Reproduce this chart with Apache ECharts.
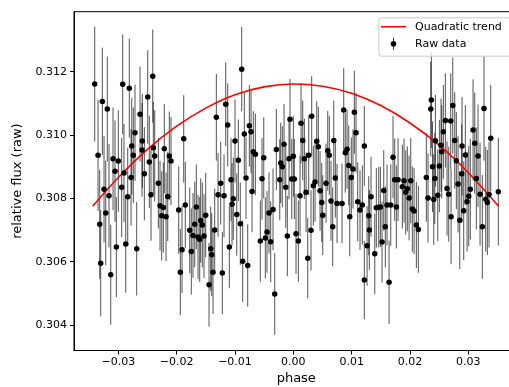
<!DOCTYPE html>
<html>
<head>
<meta charset="utf-8">
<script src="https://cdn.jsdelivr.net/npm/echarts@6/dist/echarts.min.js"></script>
<style>
html,body{margin:0;padding:0;background:#fff;}
#c{width:509px;height:387px;}
</style>
</head>
<body>
<div id="c"></div>
<script>
// ---- data ----
const phase = [
-0.03405,-0.03348,-0.03319,-0.03302,-0.03274,-0.03245,-0.03216,-0.03189,-0.0316,-0.0313,
-0.03091,-0.03057,-0.03034,-0.03,-0.02942,-0.02925,-0.02903,-0.02873,-0.02839,-0.02812,
-0.02782,-0.0277,-0.02743,-0.02714,-0.02685,-0.02628,-0.02589,-0.02594,-0.02554,-0.02496,
-0.02469,-0.0244,-0.0241,-0.024,-0.02376,-0.02314,-0.02285,-0.02256,-0.02229,-0.02212,
-0.02182,-0.02153,-0.02126,-0.02097,-0.01965,-0.01937,-0.01908,-0.01879,-0.01852,-0.01776,
-0.01749,-0.0172,-0.0169,-0.01663,-0.01634,-0.01605,-0.01588,-0.0156,-0.01531,-0.01502,
-0.01445,-0.01416,-0.01399,-0.01377,-0.01348,-0.0132,-0.01291,-0.01245,-0.01217,-0.01188,
-0.01159,-0.01125,-0.01097,-0.01068,-0.01051,-0.01029,-0.01,-0.0097,-0.00943,-0.00909,
-0.00885,-0.00868,-0.0084,-0.00811,-0.00782,-0.00754,-0.00725,-0.00708,-0.00686,-0.00651,
-0.00566,-0.00537,-0.00507,-0.0048,-0.00451,-0.00417,-0.00388,-0.00348,-0.00319,-0.00291,
-0.00233,-0.00216,-0.00189,-0.00159,-0.0013,-0.00103,-0.00074,-0.00057,-0.00027,0.0,
0.00017,0.00046,0.00086,0.00115,0.00132,0.00161,0.00189,0.00218,0.00247,0.00264,
0.00303,0.00315,0.00343,0.00372,0.00401,0.00429,0.00458,0.00487,0.00504,0.00561,
0.0059,0.00617,0.00646,0.00675,0.00693,0.0072,0.00749,0.00835,0.00864,0.00891,
0.00921,0.0095,0.00967,0.00994,0.01023,0.01046,0.01075,0.01104,0.01143,0.01183,
0.01217,0.01217,0.01264,0.01293,0.01303,0.01332,0.01396,0.01423,0.01464,0.01492,
0.01521,0.0155,0.01577,0.01606,0.01641,0.0167,0.01709,0.01738,0.01766,0.01795,
0.01869,0.01898,0.01927,0.01954,0.01984,0.02013,0.0204,0.0207,0.02109,0.02143,
0.0228,0.02309,0.02356,0.02366,0.02386,0.02407,0.02425,0.02435,0.02476,0.02503,
0.02532,0.02544,0.02572,0.02606,0.02635,0.02664,0.02698,0.02704,0.02733,0.02767,
0.02794,0.02824,0.02853,0.02887,0.02892,0.02921,0.02949,0.02978,0.03007,0.03034,
0.03081,0.0311,0.03137,0.03166,0.03201,0.0324,0.03269,0.03298,0.03326,0.03355,
0.03384,0.03514
];
const flux = [
0.31161,0.30936,0.30718,0.30595,0.31106,0.30829,0.30754,0.31082,0.30808,0.30559,
0.30925,0.30886,0.30646,0.30918,0.30835,0.3116,0.3088,0.30656,0.30805,0.31148,
0.30866,0.30965,0.30936,0.31007,0.30641,0.31066,0.30981,0.30953,0.30878,0.3112,
0.30915,0.30811,0.31186,0.3096,0.30934,0.30848,0.30777,0.30745,0.30771,0.30957,
0.30742,0.30806,0.30934,0.30918,0.30763,0.30567,0.30638,0.30988,0.30779,0.30699,
0.30632,0.30683,0.30718,0.30773,0.30678,0.3067,0.3073,0.30716,0.30681,0.30747,
0.30527,0.30641,0.30622,0.30567,0.307,0.31056,0.30811,0.30848,0.30564,0.30808,
0.31097,0.31032,0.30646,0.30859,0.30781,0.30799,0.30981,0.30749,0.3092,0.3072,
0.31208,0.30601,0.31003,0.30864,0.30588,0.31029,0.3101,0.30822,0.30947,0.30939,
0.30665,0.30862,0.30928,0.30675,0.30694,0.30754,0.30663,0.30765,0.30498,0.30954,
0.30859,0.30912,0.309,0.30971,0.30835,0.30681,0.30925,0.3105,0.30861,0.30933,
0.30861,0.30688,0.30665,0.30808,0.31037,0.30983,0.30925,0.30819,0.30611,0.30936,
0.30699,0.31059,0.3084,0.30852,0.3098,0.30963,0.30824,0.30787,0.30747,0.30848,
0.3095,0.30936,0.30792,0.3071,0.30983,0.30864,0.30784,0.30784,0.31079,0.30944,
0.30955,0.30904,0.30742,0.30866,0.30893,0.31072,0.31007,0.30789,0.30763,0.30779,
0.30965,0.30542,0.3065,0.30745,0.307,0.30805,0.30625,0.3077,0.30772,0.30773,
0.30662,0.30825,0.3071,0.30779,0.30535,0.30779,0.3093,0.30859,0.30773,0.30859,
0.30837,0.30856,0.30819,0.3083,0.30801,0.30856,0.30766,0.3076,0.30716,0.30702,
0.30866,0.30801,0.31082,0.31111,0.309,0.30796,0.30863,0.30982,0.3081,0.30902,
0.30968,0.30947,0.3101,0.31046,0.30831,0.30813,0.31044,0.30742,0.31093,0.30983,
0.30919,0.30845,0.30731,0.30878,0.30965,0.30761,0.30937,0.30789,0.30807,0.30829,
0.31016,0.30974,0.30863,0.30934,0.30813,0.3071,0.31084,0.30797,0.30787,0.30812,
0.3099,0.30821
];
const fluxErr = [
0.00182,0.00175,0.00172,0.00168,0.00170,0.00168,0.00165,0.00166,0.00163,0.00158,
0.00162,0.00160,0.00158,0.00160,0.00157,0.00158,0.00155,0.00154,0.00155,0.00156,
0.00152,0.00153,0.00151,0.00152,0.00148,0.00150,0.00149,0.00148,0.00147,0.00148,
0.00146,0.00145,0.00147,0.00145,0.00144,0.00143,0.00142,0.00141,0.00142,0.00141,
0.00140,0.00141,0.00140,0.00139,0.00138,0.00136,0.00137,0.00138,0.00136,0.00135,
0.00136,0.00134,0.00135,0.00134,0.00133,0.00134,0.00133,0.00134,0.00132,0.00133,
0.00132,0.00133,0.00131,0.00132,0.00131,0.00137,0.00132,0.00131,0.00130,0.00131,
0.00132,0.00131,0.00130,0.00131,0.00130,0.00130,0.00131,0.00130,0.00129,0.00130,
0.00133,0.00129,0.00130,0.00129,0.00130,0.00129,0.00130,0.00129,0.00128,0.00129,
0.00128,0.00129,0.00128,0.00128,0.00129,0.00128,0.00128,0.00129,0.00129,0.00128,
0.00128,0.00127,0.00128,0.00127,0.00128,0.00127,0.00128,0.00127,0.00127,0.00128,
0.00127,0.00127,0.00128,0.00127,0.00127,0.00126,0.00127,0.00126,0.00127,0.00126,
0.00127,0.00127,0.00126,0.00126,0.00127,0.00126,0.00126,0.00125,0.00126,0.00125,
0.00126,0.00125,0.00126,0.00125,0.00126,0.00125,0.00125,0.00126,0.00132,0.00126,
0.00125,0.00126,0.00125,0.00126,0.00125,0.00131,0.00126,0.00125,0.00126,0.00125,
0.00126,0.00124,0.00126,0.00125,0.00126,0.00126,0.00127,0.00126,0.00127,0.00127,
0.00128,0.00127,0.00128,0.00128,0.00132,0.00129,0.00130,0.00130,0.00131,0.00131,
0.00132,0.00133,0.00133,0.00134,0.00134,0.00135,0.00135,0.00136,0.00136,0.00137,
0.00140,0.00141,0.00150,0.00152,0.00143,0.00143,0.00144,0.00145,0.00145,0.00146,
0.00147,0.00147,0.00148,0.00149,0.00149,0.00150,0.00151,0.00150,0.00152,0.00152,
0.00153,0.00153,0.00154,0.00155,0.00155,0.00156,0.00157,0.00157,0.00158,0.00159,
0.00160,0.00160,0.00161,0.00162,0.00163,0.00164,0.00165,0.00165,0.00166,0.00167,
0.00168,0.00170
];
const trendPhase = [-0.0344,-0.03,-0.025,-0.02,-0.015,-0.01,-0.005,0.0,0.005,0.01,0.015,0.02,0.025,0.03,0.0352];
const trendFlux  = [0.30775,0.30866,0.30955,0.31028,0.31085,0.31127,0.31152,0.31161,0.31154,0.31132,0.31093,0.31038,0.30968,0.30881,0.30775];
const xTicks = [-0.03,-0.02,-0.01,0.0,0.01,0.02,0.03];
const yTicks = [0.304,0.306,0.308,0.310,0.312];

// ---- chart ----
const FONT = 'DejaVu Sans';
const pts = phase.map((p, i) => [p, flux[i], fluxErr[i]]);
const trend = trendPhase.map((p, i) => [p, trendFlux[i]]);
const fmtX = v => (v < 0 ? '\u2212' : '') + Math.abs(v).toFixed(2);
const fmtY = v => v.toFixed(3);

const lineIcon = 'path://M0,0L0.01,0L0,0.01Z M25,12L24.99,12L25,11.99Z M0,5.2L25,5.2L25,6.8L0,6.8Z';
const dotIcon = 'path://M0,0L0.01,0L0,0.01Z M25,12L24.99,12L25,11.99Z M12.1,0L12.9,0L12.9,12L12.1,12Z M15.3,6A2.8,2.8 0 1,1 9.7,6A2.8,2.8 0 1,1 15.3,6Z';

const chart = echarts.init(document.getElementById('c'), null, {renderer: 'canvas'});
chart.setOption({
  animation: false,
  backgroundColor: '#ffffff',
  grid: {left: 74, top: 11.7, width: 444.5, height: 338.8, show: true,
         containLabel: false, outerBoundsMode: 'none',
         borderColor: '#000', borderWidth: 1, backgroundColor: 'transparent'},
  graphic: [{
    type: 'rect', left: 378.3, top: 17.3, z: 50, silent: true,
    shape: {width: 145, height: 38.4, r: 3},
    style: {fill: 'rgba(255,255,255,0.8)', stroke: '#cccccc', lineWidth: 1}
  }],
  xAxis: {
    type: 'value', min: -0.0376, max: 0.0386,
    name: 'phase', nameLocation: 'middle', nameGap: 17,
    nameTextStyle: {fontSize: 13, color: '#000', fontFamily: FONT},
    axisLine: {show: true, onZero: false, lineStyle: {color: '#000', width: 1}},
    axisTick: {show: true, inside: false, length: 4, customValues: xTicks, lineStyle: {color: '#000'}},
    axisLabel: {customValues: xTicks, formatter: fmtX, fontSize: 11, color: '#000', margin: 6, fontFamily: FONT},
    splitLine: {show: false}
  },
  yAxis: {
    type: 'value', min: 0.303195, max: 0.313895,
    name: 'relative flux (raw)', nameLocation: 'middle', nameGap: 47,
    nameTextStyle: {fontSize: 13, color: '#000', fontFamily: FONT},
    axisLine: {show: true, onZero: false, lineStyle: {color: '#000', width: 1}},
    axisTick: {show: true, inside: false, length: 4, customValues: yTicks, lineStyle: {color: '#000'}},
    axisLabel: {customValues: yTicks, formatter: fmtY, fontSize: 11, color: '#000', margin: 7, fontFamily: FONT},
    splitLine: {show: false}
  },
  legend: {
    orient: 'vertical', left: 378, top: 16.8, z: 60,
    padding: [4, 4, 4, 3], itemGap: 5, itemWidth: 25, itemHeight: 12,
    borderWidth: 0, backgroundColor: 'transparent', selectedMode: false,
    textStyle: {fontSize: 11, color: '#000', fontFamily: FONT, padding: [0, 0, 0, 4]},
    data: [
      {name: 'Quadratic trend', icon: lineIcon},
      {name: 'Raw data', icon: dotIcon, itemStyle: {opacity: 1}}
    ]
  },
  series: [
    {
      name: 'errbars', type: 'custom', silent: true, z: 1,
      data: pts, encode: {x: 0, y: 1},
      renderItem: function (params, api) {
        const x = api.value(0), y = api.value(1), e = api.value(2);
        const a = api.coord([x, y - e]), b = api.coord([x, y + e]);
        return {type: 'line', shape: {x1: a[0], y1: a[1], x2: b[0], y2: b[1]},
                style: {stroke: 'rgba(0,0,0,0.68)', lineWidth: 1}};
      }
    },
    {
      name: 'Quadratic trend', type: 'line', data: trend, smooth: 0.35,
      symbol: 'none', z: 2, color: '#ff0000',
      lineStyle: {color: '#ff0000', width: 1.6}
    },
    {
      name: 'Raw data', type: 'scatter', data: pts.map(d => [d[0], d[1]]),
      symbol: 'circle', symbolSize: 5.5, z: 3, color: '#000',
      itemStyle: {color: '#000', opacity: 1}
    }
  ]
});
</script>
</body>
</html>
